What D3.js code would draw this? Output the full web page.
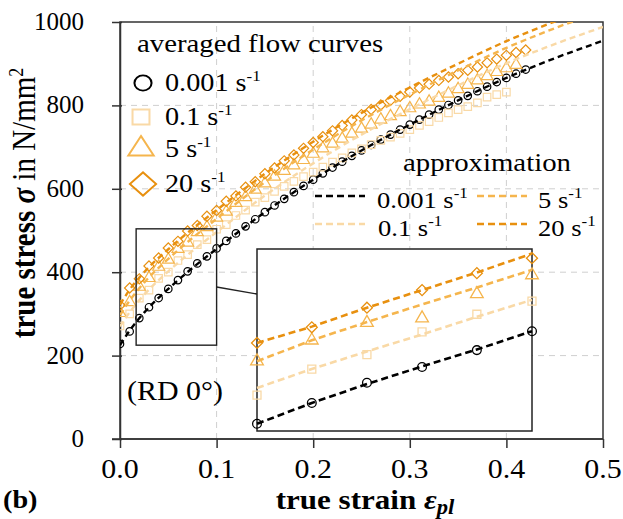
<!DOCTYPE html>
<html><head><meta charset="utf-8">
<script src="https://cdn.jsdelivr.net/npm/d3@7"></script>
<style>
body{margin:0;background:#fff}
svg{display:block}
text{font-family:"Liberation Serif","Times New Roman",serif;fill:#000}
</style>
</head><body>
<svg id="c" width="623" height="519"></svg>
<script>
// ---------- data ----------
const rateLabels = ["0.001", "0.1", "5", "20"];
const xTicks = [0.0, 0.1, 0.2, 0.3, 0.4, 0.5];
const yTicks = [0, 200, 400, 600, 800, 1000];

const strainPts = [0,0.01,0.02,0.03,0.04,0.05,0.06,0.07,0.08,0.09,0.10,0.11,0.12,0.13,0.14,0.15,0.16,0.17,0.18,0.19,0.20,0.21,0.22,0.23,0.24,0.25,0.26,0.27,0.28,0.29,0.30,0.31,0.32,0.33,0.34,0.35,0.36,0.37,0.38,0.39,0.40,0.41,0.42];

const flow0001 = [228,258,290,316,338,360,381,402,421,438,457,475,493,510,527,544,560,576,592,607,622,637,651,665,679,692,705,718,730,742,754,766,778,790,801,812,823,834,845,856,866,876,886];
const flow01   = [271,300,338,357,385,400,428,442,466,478,503,514,536,549,568,579,594,606,618,629,640,652,664,674,686,696,706,716,724,733,742,752,761,771,782,790,797,806,820,826,832];
const flow5    = [302,328,365,386,413,430,456,471,496,508,531,545,566,580,598,613,629,643,656,669,684,697,708,720,732,744,754,766,774,784,793,802,809,818,828,839,849,860,870,880,889,897];
const flow20   = [321,362,384,415,434,458,474,499,512,534,548,570,583,604,617,636,650,667,681,697,711,725,739,752,765,778,790,801,812,822,832,842,851,860,868,876,884,892,902,911,920,927,933];

const approxStrain = [0,0.01,0.025,0.05,0.075,0.1,0.15,0.2,0.25,0.3,0.35,0.4,0.45,0.5];
const approx0001 = [225,260,303,360,410,456,544,622,692,754,812,866,913,955];
const approx01   = [270,304,346,402,451,496,584,661,730,791,848,901,947,988];
const approx5    = [297,332,375,432,482,528,616,694,764,826,884,938,985,1027];
const approx20   = [322,358,400,455,504,549,636,713,782,843,900,954,1001,1043];

// inset (magnified view)
const insetStrain = [0.0167,0.0333,0.05,0.0667,0.0833,0.1];
const insetFlow0001 = [236,268,299,323,349,378];
const insetFlow01   = [280,320,342,377,404,424];
const insetFlow5    = [332,364,391,398,435,464];
const insetFlow20   = [360,384,414,441,467,490];
const insetApprox0001 = [236,268,297,324,350,378];
const insetApprox01   = [291,320,347,373,400,426];
const insetApprox5    = [332,364,392,419,445,472];
const insetApprox20   = [360,385,414,441,468,497];
const zoomX = [0.0167, 0.1];
const zoomY = [225, 504];

// ---------- styles ----------
const colors = ["#000000", "#F9D9A6", "#F5B54D", "#E8900F"];
const symbols = [d3.symbolCircle, d3.symbolSquare, d3.symbolTriangle, d3.symbolSquare];
const rotations = [0, 0, 0, 45];
const SX = 1.13; // horizontal stretch of text

const svg = d3.select("#c");
const W = 623, H = 519;
const m = {l:120, r:19, t:22, b:80};
const x = d3.scaleLinear().domain([0,0.5]).range([m.l, W-m.r-1]);
const y = d3.scaleLinear().domain([0,1000]).range([H-m.b, m.t]);

function stext(parent, px, py, size, anchor) {
  return parent.append("text")
    .attr("transform", `translate(${px},${py}) scale(${SX},1)`)
    .attr("font-size", size).attr("text-anchor", anchor || "start");
}

// grid
const grid = svg.append("g");
grid.selectAll(".gx").data(xTicks.slice(1,-1)).join("line")
  .attr("x1", d=>x(d)).attr("x2", d=>x(d)).attr("y1", y(0)).attr("y2", y(1000))
  .attr("stroke", "#cfcfcf").attr("stroke-width", 1).attr("stroke-dasharray", "6,5");
grid.selectAll(".gy").data(yTicks.slice(1,-1)).join("line")
  .attr("y1", d=>y(d)).attr("y2", d=>y(d)).attr("x1", x(0)).attr("x2", x(0.5))
  .attr("stroke", "#cfcfcf").attr("stroke-width", 1).attr("stroke-dasharray", "6,5");

// frame
svg.append("rect").attr("x", x(0)).attr("y", y(1000)).attr("width", x(0.5)-x(0)).attr("height", y(0)-y(1000))
  .attr("fill", "none").attr("stroke", "#333").attr("stroke-width", 1.5);

// axes (ticks from d3 axes, labels drawn below)
const xAxis = svg.append("g").attr("transform", `translate(0,${y(0)})`)
  .call(d3.axisBottom(x).tickValues(xTicks).tickFormat("").tickSize(9).tickSizeOuter(0));
xAxis.select(".domain").attr("stroke", "#333").attr("stroke-width", 1.5).attr("d", `M${x(0)-8},0H${x(0.5)}`);
xAxis.selectAll(".tick line").attr("stroke", "#333").attr("stroke-width", 1.5);

const yAxis = svg.append("g").attr("transform", `translate(${x(0)},0)`)
  .call(d3.axisLeft(y).tickValues(yTicks).tickFormat("").tickSize(8).tickSizeOuter(0));
yAxis.select(".domain").attr("stroke", "#333").attr("stroke-width", 1.5);
yAxis.selectAll(".tick line").attr("stroke", "#333").attr("stroke-width", 1.5).attr("x2", -8).attr("x1", 2);

const fmtX = d3.format(".1f"), fmtY = d3.format("d");
xTicks.forEach(t => stext(svg, x(t), 478, 26.5, "middle").text(fmtX(t)));
yTicks.forEach(t => svg.append("text").attr("x", 84).attr("y", y(t) + 8)
  .attr("text-anchor", "end").attr("font-size", 25).text(fmtY(t)));

// clip for curves
svg.append("clipPath").attr("id", "clip").append("rect")
  .attr("x", x(0)).attr("y", y(1000)).attr("width", x(0.5)-x(0)).attr("height", y(0)-y(1000));

const flows = [flow0001, flow01, flow5, flow20];
const approxs = [approx0001, approx01, approx5, approx20];

const line = d3.line().curve(d3.curveMonotoneX);
const plot = svg.append("g").attr("clip-path", "url(#clip)");

// markers
flows.forEach((vals, i) => {
  const sym = d3.symbol().type(symbols[i]).size(i===0?44:(i===1?56:(i===2?62:52)));
  plot.append("g").selectAll("path").data(vals).join("path")
    .attr("d", sym)
    .attr("transform", (d,j)=>`translate(${x(strainPts[j])},${y(d)}) rotate(${rotations[i]})`)
    .attr("fill", "none").attr("stroke", colors[i]).attr("stroke-width", 1.2);
});
// approximation lines
approxs.forEach((vals, i) => {
  plot.append("path")
    .attr("d", line(vals.map((v,j)=>[x(approxStrain[j]), y(v)])))
    .attr("fill", "none").attr("stroke", colors[i]).attr("stroke-width", 2.4)
    .attr("stroke-dasharray", "6,4");
});

// ---------- legend: averaged flow curves ----------
const fs = 25;
stext(svg, 137, 52, 25.5).text("averaged flow curves");
const legRows = [83, 117, 149, 184];
const legSizes = [180, 225, 220, 270];
rateLabels.forEach((lab, i) => {
  const cy = legRows[i];
  svg.append("path")
    .attr("d", d3.symbol().type(symbols[i]).size(legSizes[i]))
    .attr("transform", `translate(${i===0||i===3?143:141},${cy}) scale(${SX},1) rotate(${rotations[i]})`)
    .attr("fill", "none").attr("stroke", colors[i]).attr("stroke-width", 1.8);
  const t = stext(svg, 165, cy+8, fs);
  t.append("tspan").text(lab + " s");
  t.append("tspan").attr("dy", -10).attr("font-size", 15).text("-1");
});

// ---------- legend: approximation ----------
stext(svg, 403, 171, 25.5).text("approximation");
const apLeg = [
  {i:0, lx:315, tx:377, yy:196},
  {i:1, lx:315, tx:378, yy:224},
  {i:2, lx:477, tx:538, yy:196},
  {i:3, lx:477, tx:538, yy:224}
];
apLeg.forEach(o => {
  svg.append("line").attr("x1", o.lx).attr("x2", o.lx+50).attr("y1", o.yy).attr("y2", o.yy)
    .attr("stroke", colors[o.i]).attr("stroke-width", 2.6).attr("stroke-dasharray", "7,4");
  const t = stext(svg, o.tx, o.yy+12, 23.5);
  t.append("tspan").text(rateLabels[o.i] + " s");
  t.append("tspan").attr("dy", -10).attr("font-size", 15).text("-1");
});

// ---------- (RD 0°) ----------
stext(svg, 127, 400, 26.5).text("(RD 0°)");

// ---------- zoom rectangle & inset ----------
const zx0 = x(zoomX[0]), zx1 = x(zoomX[1]), zy0 = y(zoomY[1]), zy1 = y(zoomY[0]);
svg.append("rect").attr("x", zx0).attr("y", zy0).attr("width", zx1-zx0).attr("height", zy1-zy0)
  .attr("fill", "none").attr("stroke", "#222").attr("stroke-width", 1.4);

const ins = {x0:257, x1:532, y0:249, y1:431};
svg.append("line").attr("x1", zx1).attr("y1", 287).attr("x2", ins.x0).attr("y2", 294)
  .attr("stroke", "#222").attr("stroke-width", 1.3);
svg.append("rect").attr("x", ins.x0).attr("y", ins.y0).attr("width", ins.x1-ins.x0).attr("height", ins.y1-ins.y0)
  .attr("fill", "#fff").attr("stroke", "#222").attr("stroke-width", 1.5);

const ix = d3.scaleLinear().domain(zoomX).range([ins.x0, ins.x1]);
const iy = d3.scaleLinear().domain(zoomY).range([ins.y1, ins.y0]);
const insetFlows = [insetFlow0001, insetFlow01, insetFlow5, insetFlow20];
const insetApprox = [insetApprox0001, insetApprox01, insetApprox5, insetApprox20];
const ig = svg.append("g");
insetApprox.forEach((vals, i) => {
  ig.append("path").attr("d", d3.line()(vals.map((v,j)=>[ix(insetStrain[j]), iy(v)])))
    .attr("fill", "none").attr("stroke", colors[i]).attr("stroke-width", 2.6).attr("stroke-dasharray", "7,4");
});
insetFlows.forEach((vals, i) => {
  const sym = d3.symbol().type(symbols[i]).size(i===0?60:(i===1?64:(i===2?70:60)));
  ig.append("g").selectAll("path").data(vals).join("path")
    .attr("d", sym)
    .attr("transform", (d,j)=>`translate(${ix(insetStrain[j])},${iy(d)}) rotate(${rotations[i]})`)
    .attr("fill", "none").attr("stroke", colors[i]).attr("stroke-width", 1.3);
});

// ---------- axis titles ----------
const yt = svg.append("text").attr("transform", `translate(35,203) scale(${SX},1) rotate(-90)`)
  .attr("text-anchor", "middle").attr("font-size", 29);
yt.append("tspan").attr("font-weight", "bold").text("true stress ");
yt.append("tspan").attr("font-weight", "bold").attr("font-style", "italic").text("σ");
yt.append("tspan").text(" in N/mm");
yt.append("tspan").attr("dy", -11).attr("font-size", 18).text("2");

const xt = stext(svg, 365, 509, 27.5, "middle");
xt.append("tspan").attr("font-weight", "bold").text("true strain ");
xt.append("tspan").attr("font-weight", "bold").attr("font-style", "italic").text("ε");
xt.append("tspan").attr("font-weight", "bold").attr("font-style", "italic").attr("dy", 5).attr("font-size", 20).text("pl");

stext(svg, 3, 508, 25).attr("font-weight", "bold").text("(b)");
</script>
</body></html>
